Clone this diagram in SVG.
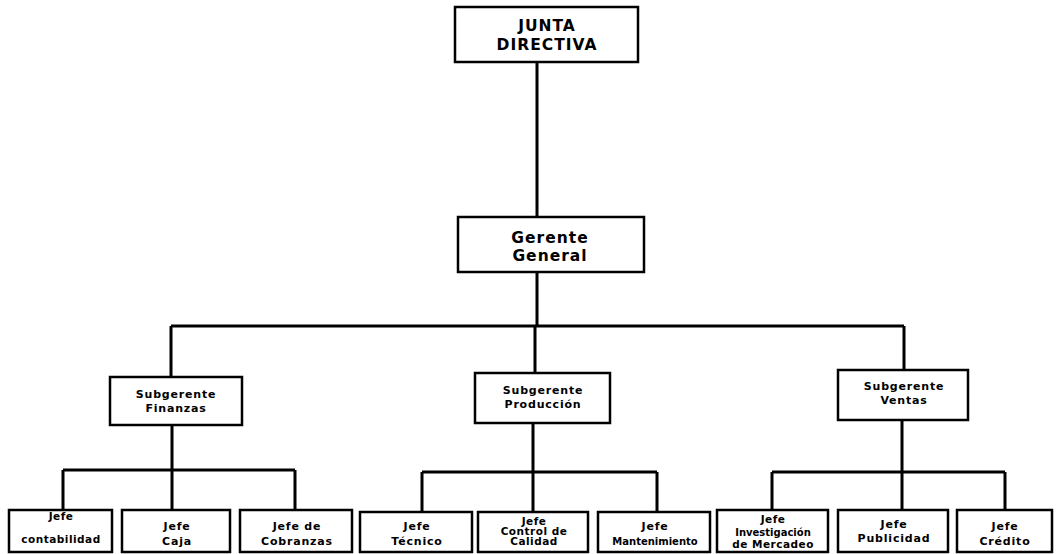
<svg xmlns="http://www.w3.org/2000/svg" width="1057" height="554" viewBox="0 0 1057 554">
<style>
.box{fill:#fff;stroke:#000;stroke-width:2.5}
.ln{fill:none;stroke:#000;stroke-width:3}
text{font-family:"DejaVu Sans","Liberation Sans",Arial,sans-serif;font-weight:bold;fill:#000;text-anchor:middle}
.t1{font-size:15.5px;letter-spacing:1px}
.t2{font-size:11px;letter-spacing:0.8px}
.t3{font-size:10.5px;letter-spacing:0.5px}
.t4{font-size:10px;letter-spacing:0px}
</style>
<rect width="1057" height="554" fill="#fff"/>
<g id="connectors">
<path class="ln" d="M537 62V217M537 272V326M171 326H904M171 326V377M535 326V373M904 326V370"/>
<path class="ln" d="M172 425V470M63 470H295M63 470V510M172 470V510M295 470V510"/>
<path class="ln" d="M533 423V472M422 472H657M422 472V512M533 472V512M657 472V512"/>
<path class="ln" d="M902 420V472M772 472H1005M772 472V510M902 472V510M1005 472V510"/>
</g>
<g id="junta"><rect class="box" x="455" y="7" width="183" height="55"/><text class="t1" x="547" y="31">JUNTA</text><text class="t1" x="547" y="50">DIRECTIVA</text></g>
<g id="gerente"><rect class="box" x="458" y="217" width="186" height="55"/><text class="t1" x="550" y="243">Gerente</text><text class="t1" x="550" y="261">General</text></g>
<g id="sub-finanzas"><rect class="box" x="110" y="377" width="132" height="48"/><text class="t2" x="176" y="398">Subgerente</text><text class="t2" x="176" y="412">Finanzas</text></g>
<g id="sub-produccion"><rect class="box" x="475" y="373" width="135" height="50"/><text class="t2" x="543" y="394">Subgerente</text><text class="t2" x="543" y="408">Producción</text></g>
<g id="sub-ventas"><rect class="box" x="838" y="370" width="130" height="50"/><text class="t2" x="904" y="390">Subgerente</text><text class="t2" x="904" y="404">Ventas</text></g>
<g id="jefe-contabilidad"><rect class="box" x="9" y="510" width="103" height="42"/><text class="t3" x="61" y="520">Jefe</text><text class="t3" x="61" y="543">contabilidad</text></g>
<g id="jefe-caja"><rect class="box" x="122" y="510" width="108" height="42"/><text class="t2" x="177" y="530">Jefe</text><text class="t2" x="177" y="545">Caja</text></g>
<g id="jefe-cobranzas"><rect class="box" x="240" y="510" width="112" height="42"/><text class="t2" x="297" y="530">Jefe de</text><text class="t2" x="297" y="545">Cobranzas</text></g>
<g id="jefe-tecnico"><rect class="box" x="360" y="512" width="112" height="40"/><text class="t2" x="417" y="530">Jefe</text><text class="t2" x="417" y="545">Técnico</text></g>
<g id="jefe-calidad"><rect class="box" x="478" y="512" width="110" height="40"/><text class="t3" x="534" y="525">Jefe</text><text class="t3" x="534" y="535">Control de</text><text class="t3" x="534" y="545">Calidad</text></g>
<g id="jefe-mantenimiento"><rect class="box" x="598" y="512" width="112" height="40"/><text class="t2" x="655" y="530">Jefe</text><text class="t4" x="655" y="545">Mantenimiento</text></g>
<g id="jefe-investigacion"><rect class="box" x="717" y="510" width="111" height="42"/><text class="t3" x="773" y="523">Jefe</text><text class="t4" x="773" y="536">Investigación</text><text class="t3" x="773" y="548">de Mercadeo</text></g>
<g id="jefe-publicidad"><rect class="box" x="838" y="510" width="110" height="42"/><text class="t2" x="894" y="528">Jefe</text><text class="t2" x="894" y="542">Publicidad</text></g>
<g id="jefe-credito"><rect class="box" x="957" y="510" width="95" height="42"/><text class="t2" x="1005" y="530">Jefe</text><text class="t2" x="1005" y="545">Crédito</text></g>
</svg>
